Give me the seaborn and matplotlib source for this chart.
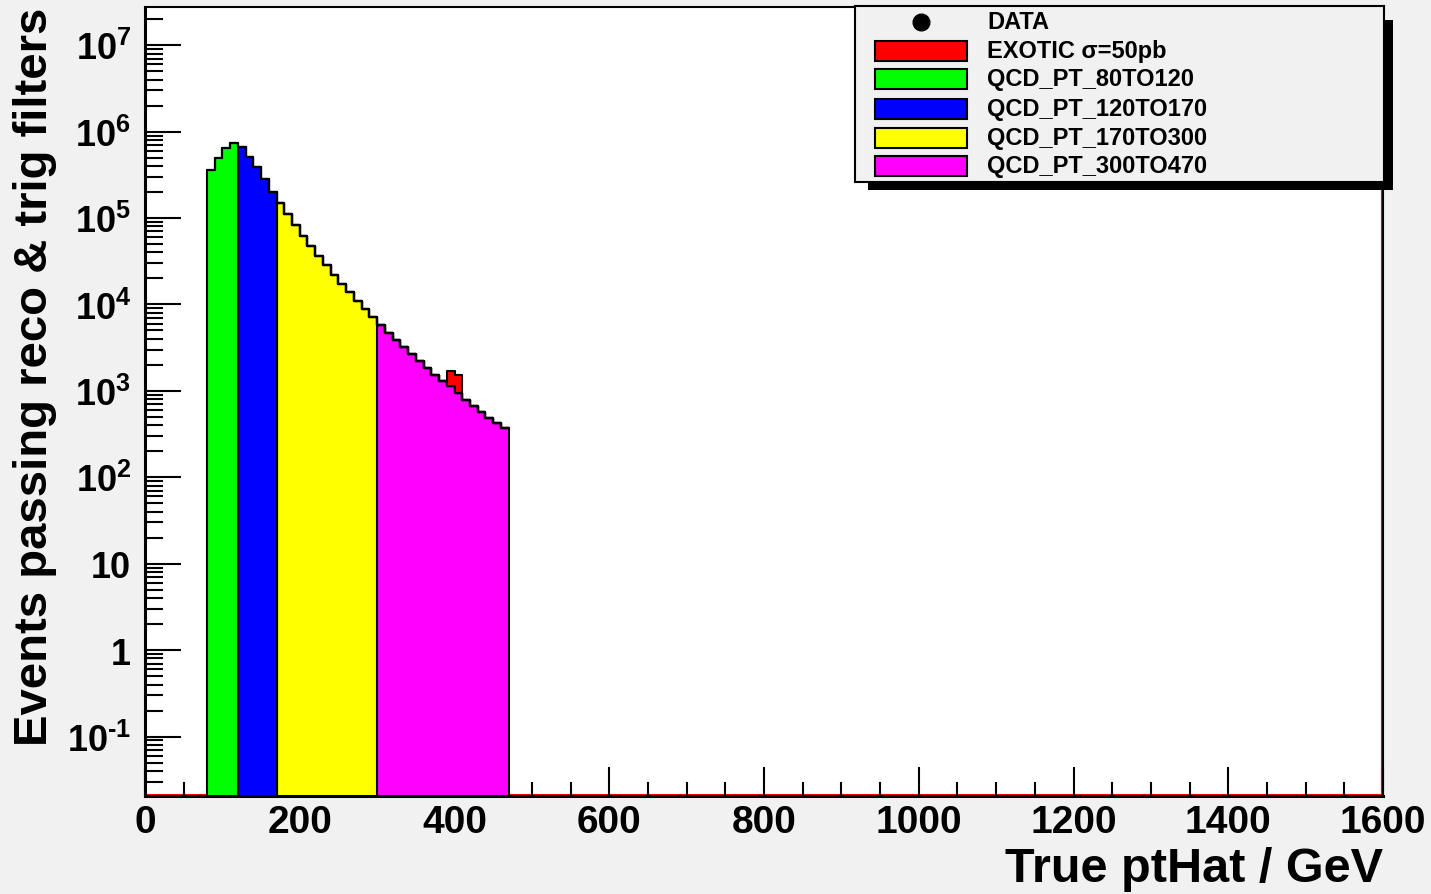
import matplotlib

matplotlib.use("Agg")

import matplotlib.pyplot as plt
from matplotlib import ticker
from matplotlib.lines import Line2D
from matplotlib.patches import Rectangle
import numpy as np
import pandas as pd
import seaborn as sns


# histogram binning (GeV)
BIN_WIDTH = 10
FIRST_EDGE = 80
LAST_EDGE = 470
X_RANGE = (0, 1600)
Y_RANGE = (0.0205, 2.77e7)

# events per 10 GeV bin; each list starts at *_START
EXOTIC_START = 390
EXOTIC = [580, 570]

QCD_80TO120_START = 80
QCD_80TO120 = [3.59e5, 4.99e5, 6.52e5, 7.32e5]

QCD_120TO170_START = 120
QCD_120TO170 = [6.70e5, 5.13e5, 3.86e5, 2.80e5, 2.01e5]

QCD_170TO300_START = 170
QCD_170TO300 = [1.48e5, 1.10e5, 8.27e4, 6.22e4, 4.76e4, 3.68e4, 2.84e4,
                2.22e4, 1.74e4, 1.40e4, 1.11e4, 8.86e3, 7.09e3]

QCD_300TO470_START = 300
QCD_300TO470 = [5.73e3, 4.71e3, 3.91e3, 3.21e3, 2.67e3, 2.21e3, 1.85e3,
                1.52e3, 1.30e3, 1.13e3, 950, 794, 676, 566, 491, 422, 372]

SAMPLES = ["EXOTIC", "QCD_PT_80TO120", "QCD_PT_120TO170",
           "QCD_PT_170TO300", "QCD_PT_300TO470"]
LEGEND_LABELS = ["EXOTIC σ=50pb", "QCD_PT_80TO120", "QCD_PT_120TO170",
                 "QCD_PT_170TO300", "QCD_PT_300TO470"]
COLORS = ["#ff0000", "#00ff00", "#0000ff", "#ffff00", "#ff00ff"]

W, H = 1431, 895
BG = "#f1f1f1"
FONT = ["Liberation Sans", "DejaVu Sans"]


def build_frame() -> pd.DataFrame:
    parts = [
        ("EXOTIC", EXOTIC_START, EXOTIC),
        ("QCD_PT_80TO120", QCD_80TO120_START, QCD_80TO120),
        ("QCD_PT_120TO170", QCD_120TO170_START, QCD_120TO170),
        ("QCD_PT_170TO300", QCD_170TO300_START, QCD_170TO300),
        ("QCD_PT_300TO470", QCD_300TO470_START, QCD_300TO470),
    ]
    rows = []
    for name, start, values in parts:
        for i, v in enumerate(values):
            rows.append({"pt": start + (i + 0.5) * BIN_WIDTH, "events": v, "sample": name})
    return pd.DataFrame(rows)


sns.set_style("ticks")
plt.rcParams.update({
    "font.family": FONT,
    "font.weight": "bold",
    "text.color": "black",
    "axes.labelcolor": "black",
    "axes.edgecolor": "black",
    "xtick.color": "black",
    "ytick.color": "black",
    "mathtext.fontset": "custom",
    "mathtext.rm": "Liberation Sans:bold",
    "mathtext.it": "Liberation Sans:bold",
    "mathtext.bf": "Liberation Sans:bold",
    "mathtext.default": "rm",
})

df = build_frame()

fig = plt.figure(figsize=(W / 100, H / 100), dpi=100)
fig.patch.set_facecolor(BG)
ax = fig.add_axes([145 / W, 1 - 797 / H, 1238 / W, 789 / H])
ax.set_facecolor("white")

sns.histplot(
    data=df, x="pt", weights="events", hue="sample", hue_order=SAMPLES,
    palette=COLORS, binwidth=BIN_WIDTH, binrange=(FIRST_EDGE, LAST_EDGE),
    multiple="stack", element="step", fill=True,
    alpha=1, edgecolor="black", linewidth=1.5, legend=False, ax=ax,
)

ax.set_yscale("log")
ax.set_xlim(*X_RANGE)
ax.set_ylim(*Y_RANGE)

# red outline of the signal histogram along the frame
ax.axhline(Y_RANGE[0] * 1.03, color="red", lw=1.5, zorder=0.5)
ax.axvline(X_RANGE[1], color="red", lw=3, zorder=0.5)

ax.xaxis.set_major_locator(ticker.MultipleLocator(200))
ax.xaxis.set_minor_locator(ticker.MultipleLocator(50))
ax.yaxis.set_major_locator(ticker.LogLocator(base=10, numticks=20))
ax.yaxis.set_minor_locator(ticker.LogLocator(base=10, subs=range(2, 10), numticks=20))
ax.yaxis.set_minor_formatter(ticker.NullFormatter())


def log_label(v, pos):
    e = int(round(np.log10(v)))
    if e == 0:
        return "1"
    if e == 1:
        return "10"
    if e < 0:
        return "$10^{\\text{-}%d}$" % (-e)
    return "$10^{%d}$" % e


ax.yaxis.set_major_formatter(ticker.FuncFormatter(log_label))

ax.tick_params(axis="x", which="major", direction="in", length=21, width=1.5,
               pad=6, labelsize=28, top=False)
ax.tick_params(axis="x", which="minor", direction="in", length=10, width=1.5, top=False)
ax.tick_params(axis="y", which="major", direction="in", length=26, width=1.5,
               pad=10, labelsize=26, right=False)
ax.tick_params(axis="y", which="minor", direction="in", length=13, width=1.5, right=False)

for side in ["left", "bottom"]:
    ax.spines[side].set_linewidth(2.2)
for side in ["top", "right"]:
    ax.spines[side].set_linewidth(1.5)

ax.set_xlabel("True ptHat / GeV", loc="right", fontsize=35, fontweight="bold")
ax.xaxis.set_label_coords(1.0, -0.063)
ax.set_ylabel("Events passing reco & trig filters", loc="top", fontsize=34,
              fontweight="bold")
ax.yaxis.set_label_coords(-0.071, 1.0)

# ROOT-style legend box with drop shadow
shadow = Rectangle((868 / W, 1 - 190.7 / H), 524.7 / W, 169.4 / H,
                   transform=fig.transFigure, facecolor="black", edgecolor="none",
                   zorder=1)
fig.add_artist(shadow)

lax = fig.add_axes([854.7 / W, 1 - 182.7 / H, 529.3 / W, 175.4 / H])
lax.set_zorder(2)
lax.set_facecolor(BG)
lax.set_xlim(854.7, 1384)
lax.set_ylim(182.7, 7.3)
lax.set_xticks([])
lax.set_yticks([])
for sp in lax.spines.values():
    sp.set_linewidth(1.5)
    sp.set_color("black")

row_y = [23, 52, 80, 110, 139, 167]
lax.add_line(Line2D([921], [row_y[0]], marker="o", markersize=12,
                    color="black", linestyle="none"))
lax.text(987, row_y[0], "DATA", fontsize=17, fontweight="bold",
         va="center", ha="left")
for y, label, color in zip(row_y[1:], LEGEND_LABELS, COLORS):
    lax.add_patch(Rectangle((875, y - 10), 92, 20, facecolor=color,
                            edgecolor="black", linewidth=1.5))
    lax.text(987, y, label, fontsize=17, fontweight="bold",
             va="center", ha="left")

fig.savefig("out.png", dpi=100, facecolor=BG)
